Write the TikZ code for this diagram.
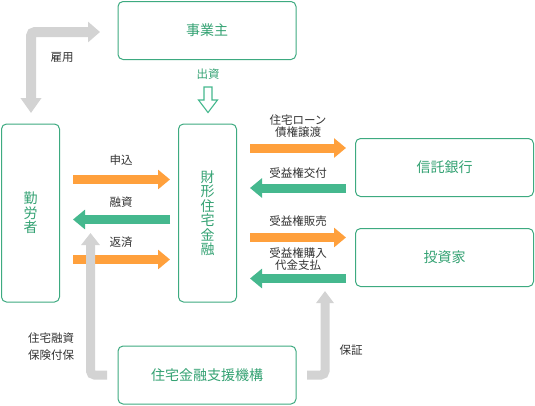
\documentclass[tikz,border=0pt]{standalone}
\usepackage{fontspec}
\setmainfont{Noto Sans CJK JP}
\usetikzlibrary{arrows.meta}
\definecolor{boxgreen}{HTML}{3DAA80}
\definecolor{txtgreen}{HTML}{34A273}
\definecolor{arrgreen}{HTML}{45B88E}
\definecolor{arrorange}{HTML}{FFA03C}
\definecolor{arrgrey}{HTML}{D3D3D3}
\definecolor{lbl}{HTML}{333333}
\tikzset{
  box/.style={draw=boxgreen, line width=1pt, rounded corners=5pt, fill=white,
    text=txtgreen, font=\fontsize{14}{14.5}\selectfont, align=center, inner sep=0pt},
  wide/.style={minimum width=178pt, minimum height=58pt},
  tall/.style={minimum width=58pt, minimum height=178pt},
  lab/.style={text=lbl, font=\fontsize{11.5}{14}\selectfont, align=center, inner sep=0pt},
  orangearrow/.style={draw=arrorange, line width=9pt, -{Triangle[width=19pt,length=12pt]}},
  greenarrow/.style={draw=arrgreen, line width=9pt, -{Triangle[width=19pt,length=12pt]}},
  greyarrow/.style={draw=arrgrey, line width=9pt, rounded corners=4pt},
}
\begin{document}
\begin{tikzpicture}[x=1pt,y=-1pt]
\useasboundingbox (0,0) rectangle (535,405);
% boxes
\node[box,wide] (jigyo) at (207,30.5) {事業主};
\node[box,tall] (kinro) at (30.5,213) {勤\\労\\者};
\node[box,tall] (zaikei) at (207.5,213) {財\\形\\住\\宅\\金\\融};
\node[box,wide] (shintaku) at (444.5,167.5) {信託銀行};
\node[box,wide] (toushi) at (444.5,257.5) {投資家};
\node[box,wide] (shien) at (207,375) {住宅金融支援機構};
% coordinates
\coordinate (kR) at (73,0);
\coordinate (zL) at (170,0);
\coordinate (zR) at (250,0);
\coordinate (sL) at (346,0);
% left arrows
\draw[orangearrow] (kR |- 0,179.5) coordinate (a1s) -- (zL |- 0,179.5) coordinate (a1e);
\draw[greenarrow] (zL |- 0,219.5) -- (kR |- 0,219.5);
\draw[orangearrow] (kR |- 0,259.5) -- (zL |- 0,259.5);
\node[lab] (l1) at (121,160) {申込};
\node[lab] (l2) at (121,202) {融資};
\node[lab] (l3) at (121,242) {返済};
% right arrows
\draw[orangearrow] (zR |- 0,148) -- (sL |- 0,148);
\draw[greenarrow] (sL |- 0,188) -- (zR |- 0,188);
\draw[orangearrow] (zR |- 0,237.5) -- (sL |- 0,237.5);
\draw[greenarrow] (sL |- 0,278.5) -- (zR |- 0,278.5);
\node[lab] (r1) at (298,126) {住宅ローン\\[-2pt]債権譲渡};
\node[lab] (r2) at (298,173) {受益権交付};
\node[lab] (r3) at (298,221) {受益権販売};
\node[lab] (r4) at (298,259) {受益権購入\\[-2pt]代金支払};
% employment L arrow
\draw[greyarrow, line width=10pt, {Triangle[width=20pt,length=15pt]}-{Triangle[width=20pt,length=12pt]}]
  (31,113) coordinate (e1) -- (31,32) -- (100,32) coordinate (e2);
\node[lab] (koyo) at (62,57) {雇用};
% investment hollow arrow
\node[lab, text=txtgreen] (shusshi) at (208,74) {出資};
\draw[draw=arrgreen, line width=1.1pt, fill=white, line join=miter]
  (204,87) -- (212,87) -- (212,100) -- (217.5,100) -- (208,112.5) -- (198.5,100) -- (204,100) -- cycle;
% bottom grey arrows
\draw[greyarrow, -{Triangle[width=18pt,length=12pt]}]
  (107,375) -- (90.5,375) -- (90.5,233);
\draw[greyarrow, -{Triangle[width=17pt,length=12pt]}]
  (307,375) -- (325,375) -- (325,291);
\node[lab] (hoken) at (51,346.5) {住宅融資\\[3pt]保険付保};
\node[lab] (hosho) at (351,350) {保証};
\end{tikzpicture}
\end{document}
